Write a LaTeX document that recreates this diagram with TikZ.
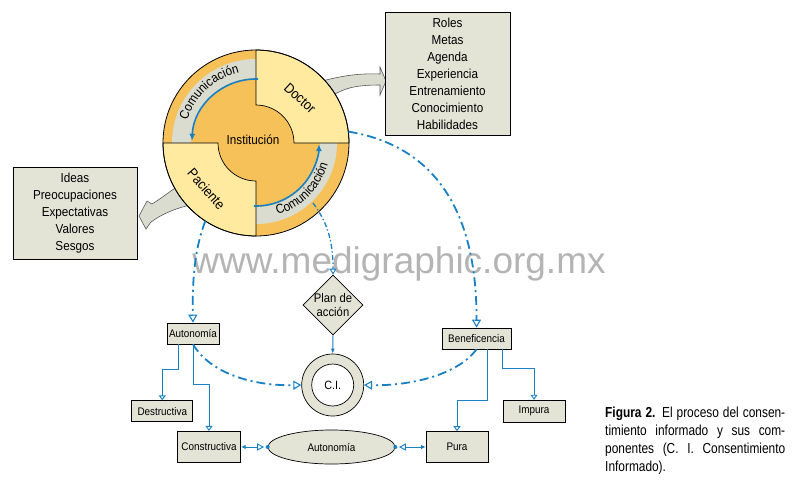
\documentclass[tikz,border=0pt]{standalone}
\usepackage{fontspec}
\setmainfont{Liberation Sans}[FakeStretch=0.9]
\newfontfamily\wmfont{Liberation Sans}
\newfontfamily\capfont{Liberation Sans}[FakeStretch=0.82]
\usetikzlibrary{arrows.meta,shapes.geometric,decorations.text}
\definecolor{lyellow}{RGB}{255,234,160}
\definecolor{qorange}{RGB}{247,193,90}
\definecolor{gband}{RGB}{218,220,208}
\definecolor{boxfill}{RGB}{227,228,214}
\definecolor{cblue}{RGB}{24,128,196}
\definecolor{wmgrey}{RGB}{180,180,180}
\newcommand\fs[2]{\fontsize{#1}{#2}\selectfont}
\newcommand\cfont{\fontsize{13}{13}\selectfont}
\begin{document}
\begin{tikzpicture}[x=1pt,y=1pt,
  box/.style={draw=black, line width=0.7pt, fill=boxfill, inner sep=0pt, align=center},
  sfont/.style={font=\fs{11}{13}},
  dd/.style={draw=cblue, line width=1.8pt, dash pattern=on 9pt off 4pt on 2pt off 4pt},
  ddthin/.style={draw=cblue, line width=1.3pt, dash pattern=on 5pt off 2.5pt on 1.3pt off 2.5pt},
  sl/.style={draw=cblue, line width=1pt},
  opentip/.style={-{Triangle[open,length=8pt,width=9pt,line width=1.1pt]}},
  smalltip/.style={-{Triangle[open,length=5pt,width=7pt,line width=0.9pt]}},
  blockarrow/.style={fill=gband, draw=black!65, line width=0.6pt},
  ringarc/.style={draw=cblue, line width=1.6pt, -{Latex[length=7pt,width=6pt]}},
]
\fill[white] (0,0) rectangle (803,-482);
\useasboundingbox (0,0) rectangle (803,-482);

% watermark
\node[font=\wmfont\fs{37}{37}, text=wmgrey, anchor=base, inner sep=0pt] (wm) at (399,-273) {www.medigraphic.org.mx};

% block arrows
\filldraw[blockarrow] (322,-81) .. controls (338,-77) and (355,-73) .. (380,-74)
  -- (380,-67) -- (386,-81) -- (380,-95) -- (380,-85)
  .. controls (360,-85) and (345,-87) .. (332,-96) -- cycle;
\filldraw[blockarrow] (178,-186) .. controls (168,-193) and (160,-199) .. (152,-204)
  -- (147,-201) -- (139,-216) -- (146,-229) -- (151,-222)
  .. controls (165,-212) and (178,-208) .. (190,-205) -- cycle;

% big circle
\node[circle, minimum size=186pt, inner sep=0pt] (big) at (256,-143) {};
\fill[qorange] (big.center) circle[radius=93];
\fill[gband] ([shift={(90:65)}]big.center) arc[start angle=90,end angle=180,radius=65]
  -- ([shift={(180:84)}]big.center) arc[start angle=180,end angle=90,radius=84] -- cycle;
\fill[gband] ([shift={(270:64)}]big.center) arc[start angle=270,end angle=360,radius=64]
  -- ([shift={(0:81)}]big.center) arc[start angle=360,end angle=270,radius=81] -- cycle;
\filldraw[fill=lyellow, draw=black, line width=0.7pt] ([shift={(0:38)}]big.center)
  -- ([shift={(0:93)}]big.center) arc[start angle=0,end angle=90,radius=93]
  -- ([shift={(90:38)}]big.center) arc[start angle=90,end angle=0,radius=38] -- cycle;
\filldraw[fill=lyellow, draw=black, line width=0.7pt] ([shift={(180:38)}]big.center)
  -- ([shift={(180:93)}]big.center) arc[start angle=180,end angle=270,radius=93]
  -- ([shift={(270:38)}]big.center) arc[start angle=270,end angle=180,radius=38] -- cycle;
\draw[line width=0.8pt] (big.center) circle[radius=93];

\draw[ringarc] ([shift={(88:64)}]big.center) arc[start angle=88,end angle=178,radius=64];
\draw[ringarc] ([shift={(268:63)}]big.center) arc[start angle=268,end angle=359,radius=63];

\path[decorate, decoration={text along path, text align=center, text={|\cfont|Comunicación}}]
  ([shift={(180:72.5)}]big.center) arc[start angle=180,end angle=85,radius=72.5];
\path[decorate, decoration={text along path, text align=center, text={|\cfont|Comunicación}}]
  ([shift={(270:75)}]big.center) arc[start angle=270,end angle=360,radius=75];

\node[font=\fs{13}{13}] (inst) at (253,-140) {Institución};
\node[font=\fs{14}{14}, rotate=-42] (doc) at (300,-98) {Doctor};
\node[font=\fs{14}{14}, rotate=-49] (pac) at (206.5,-189) {Paciente};

% side boxes
\node[box, minimum width=125pt, minimum height=123pt, font=\fs{13}{17}] (rbox) at (447.5,-73.5)
  {Roles\\Metas\\Agenda\\Experiencia\\Entrenamiento\\Conocimiento\\Habilidades};
\node[box, minimum width=124pt, minimum height=92pt, font=\fs{13}{17}] (lbox) at (75,-213)
  {Ideas\\Preocupaciones\\Expectativas\\Valores\\Sesgos};

% lower nodes
\node[box, sfont, minimum width=52pt, minimum height=21pt] (auto) at (193,-333.5) {Autonomía};
\node[box, sfont, minimum width=69pt, minimum height=21pt] (benef) at (476.5,-338.5) {Beneficencia};
\node[box, sfont, minimum width=61pt, minimum height=21pt] (dest) at (162.3,-411.2) {Destructiva};
\node[box, sfont, minimum width=63.5pt, minimum height=31.5pt] (cons) at (209,-447) {Constructiva};
\node[box, sfont, minimum width=62pt, minimum height=31pt] (pura) at (457,-447) {Pura};
\node[box, sfont, minimum width=62pt, minimum height=21.7pt] (impura) at (534,-411) {Impura};
\node[box, sfont, ellipse, minimum width=127pt, minimum height=34pt] (auto2) at (331.5,-447) {Autonomía};
\node[box, diamond, minimum width=60pt, minimum height=60pt] (plan) at (333,-305) {};
\node[font=\fs{12.5}{14}, align=center, inner sep=0pt] (plantxt) at (plan.center) {Plan de\\acción};
\node[box, circle, minimum size=62pt] (ci) at (332.7,-385) {};
\node[draw=black, line width=0.7pt, fill=white, circle, minimum size=42pt, inner sep=0pt, font=\fs{12}{12}] (ciin) at (ci.center) {C.I.};

% dash-dot connectors
\draw[dd, opentip] (big.237) .. controls (196,-245) and (192,-275) .. (auto.north);
\coordinate (planstart) at (313,-203);
\draw[ddthin, -{Triangle[open,length=6pt,width=7pt,line width=0.9pt]}] (planstart) .. controls (327,-222) and (333,-240) .. (plan.north);
\draw[dd, opentip] (big.7) .. controls (430,-145) and (477,-205) .. (benef.north);
\draw[dd, opentip] (auto.south) .. controls (213,-377) and (260,-386) .. (ci.west);
\draw[dd, opentip] (benef.south) .. controls (456,-377) and (405,-386) .. (ci.east);

% solid connectors
\draw[sl, -{Latex[length=5pt,width=4pt]}] (plan.south) -- (ci.north);
\draw[sl, smalltip] ([xshift=-15pt]auto.south) -- ++(0,-25) -| (dest.north);
\draw[sl, smalltip] (auto.south) -- ++(0,-40) -| (cons.north);
\draw[sl, smalltip] ([xshift=11pt]benef.south) -- ++(0,-51) -| (pura.north);
\draw[sl, smalltip] ([xshift=26pt]benef.south) -- ++(0,-19) -| (impura.north);
\draw[sl, {Latex[length=4.5pt,width=4.5pt]}-{Triangle[open,length=7pt,width=7pt,line width=0.9pt]}, shorten >=3.5pt] (cons.east) -- (auto2.west);
\fill[cblue] (auto2.west) circle[radius=2];
\draw[sl, {Latex[length=4.5pt,width=4.5pt]}-{Triangle[open,length=7pt,width=7pt,line width=0.9pt]}, shorten >=3.5pt] (pura.west) -- (auto2.east);
\fill[cblue] (auto2.east) circle[radius=2];

% caption
\node[font=\capfont\fs{14.5}{18}, anchor=base west, inner sep=0pt] (cap1) at (605,-417) {\makebox[180pt][s]{\textbf{Figura 2.} El proceso del consen-}};
\node[font=\capfont\fs{14.5}{18}, anchor=base west, inner sep=0pt] (cap2) at (605,-435) {\makebox[180pt][s]{timiento informado y sus com-}};
\node[font=\capfont\fs{14.5}{18}, anchor=base west, inner sep=0pt] (cap3) at (605,-453) {\makebox[180pt][s]{ponentes (C. I. Consentimiento}};
\node[font=\capfont\fs{14.5}{18}, anchor=base west, inner sep=0pt] (cap4) at (605,-471) {Informado).};
\end{tikzpicture}
\end{document}
